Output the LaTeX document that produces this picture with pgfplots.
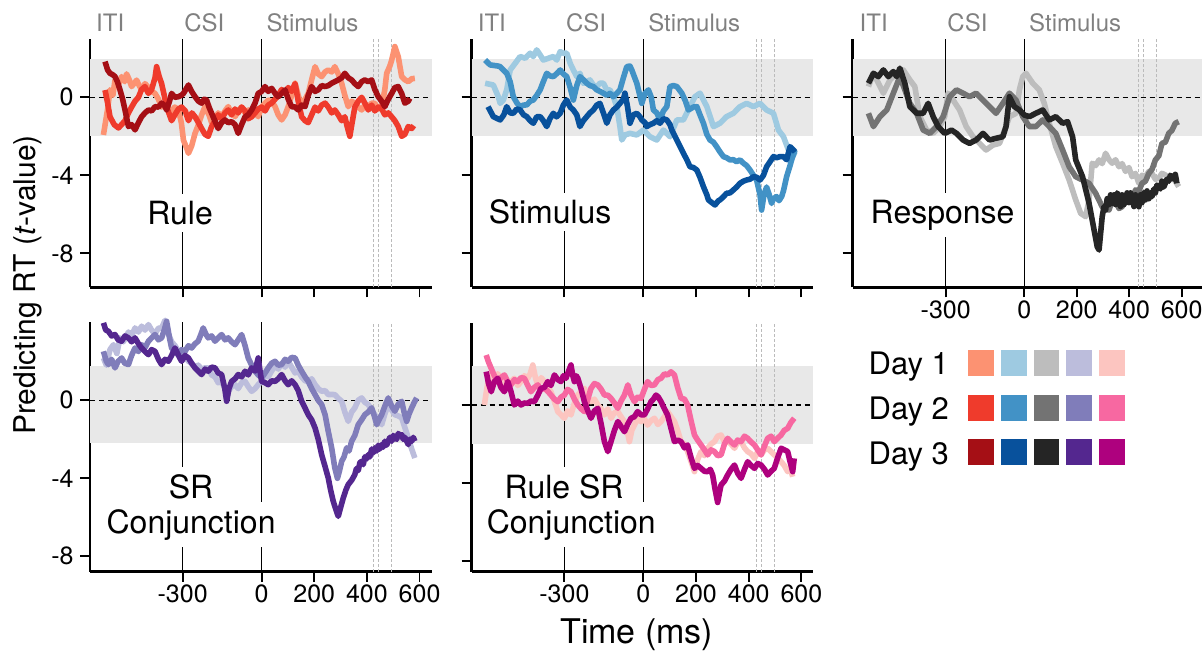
\documentclass[border=0pt]{standalone}
\usepackage{fontspec}
\setmainfont{TeX Gyre Heros}
\usepackage{pgfplots}
\pgfplotsset{compat=1.18}

\definecolor{r1}{HTML}{FC9272}\definecolor{r2}{HTML}{EF3B2C}\definecolor{r3}{HTML}{A50F15}
\definecolor{b1}{HTML}{9ECAE1}\definecolor{b2}{HTML}{4292C6}\definecolor{b3}{HTML}{08519C}
\definecolor{g1}{HTML}{BDBDBD}\definecolor{g2}{HTML}{737373}\definecolor{g3}{HTML}{252525}
\definecolor{p1}{HTML}{BCBDDC}\definecolor{p2}{HTML}{807DBA}\definecolor{p3}{HTML}{54278F}
\definecolor{m1}{HTML}{FCC5C0}\definecolor{m2}{HTML}{F768A1}\definecolor{m3}{HTML}{AE017E}
\definecolor{bandgray}{HTML}{E8E8E8}
\definecolor{evgray}{HTML}{808080}
\definecolor{dashgray}{HTML}{BBBBBB}

\pgfplotsset{
  panel/.style={
    scale only axis, axis lines*=left, clip=false,
    axis line style={line width=1.4pt, -},
    tick style={line width=0.9pt, black},
    tick align=outside, major tick length=5pt,
    xtick={-300,0,200,400,600}, ytick={-8,-4,0},
    xticklabels={}, yticklabels={},
    tick label style={font=\fontsize{12.5}{14}\selectfont},
    xticklabel style={inner sep=1.5pt},
    yticklabel style={inner sep=3pt},
    every axis plot/.append style={line width=2.8pt, line join=round, no markers},
  },
  xlab/.style={xticklabels={-300,0,200,400,600}},
  ylab/.style={yticklabels={-8,-4,0}},
}

% band, zero line, event lines, gray dashed lines
\newcommand\decor[9]{%
  \fill[bandgray] (axis cs:#1,#5) rectangle (axis cs:#2,#6);
  \draw[black, line width=0.6pt, dash pattern=on 2.5pt off 2pt] (axis cs:#1,0) -- (axis cs:#2,0);
  \draw[black, line width=0.6pt] (axis cs:-300,#3) -- (axis cs:-300,#4);
  \draw[black, line width=0.6pt] (axis cs:0,#3) -- (axis cs:0,#4);
  \draw[dashgray, line width=0.45pt, dash pattern=on 1.5pt off 1pt] (axis cs:#7,#3) -- (axis cs:#7,#4);
  \draw[dashgray, line width=0.45pt, dash pattern=on 1.5pt off 1pt] (axis cs:#8,#3) -- (axis cs:#8,#4);
  \draw[dashgray, line width=0.45pt, dash pattern=on 1.5pt off 1pt] (axis cs:#9,#3) -- (axis cs:#9,#4);
}
\newcommand\evlabels{%
  \node[anchor=west, inner sep=0pt, text=evgray, font=\fontsize{12}{14}\selectfont] at (axis cs:-630,3.82) {ITI};
  \node[anchor=west, inner sep=0pt, text=evgray, font=\fontsize{12}{14}\selectfont] at (axis cs:-295,3.82) {CSI};
  \node[anchor=west, inner sep=0pt, text=evgray, font=\fontsize{12}{14}\selectfont] at (axis cs:17,3.82) {Stimulus};
}
\tikzset{plab/.style={anchor=base, fill=white, inner xsep=2pt, inner ysep=3.5pt, font=\fontsize{16}{19}\selectfont}}

\begin{document}
\begin{tikzpicture}
\useasboundingbox (0,0) rectangle (601pt,325.5pt);

% ---------- Rule ----------
\begin{axis}[panel, ylab, at={(45pt,181.85pt)}, anchor=south west,
  width=170.85pt, height=124.15pt, xmin=-652, xmax=646, ymin=-9.74, ymax=2.99]
\decor{-652}{646}{-9.74}{2.99}{-1.96}{1.96}{426}{443}{495}
\addplot[r1] coordinates {(-601,-1.93) (-585,-0.6) (-576,0.38) (-565,0.1) (-557,0.88) (-545,0.6) (-532,1.06) (-520,0.8) (-513,1.2) (-503,0.9) (-494,0.55) (-485,0.7) (-475,0.88) (-465,0.6) (-456,0.38) (-443,0.7) (-430,0.5) (-418,0.3) (-405,0.2) (-392,-0.1) (-380,-0.5) (-365,-0.3) (-348,-0.8) (-330,-0.5) (-316,-0.65) (-305,-1.3) (-297,-2.2) (-285,-2.6) (-278,-2.87) (-266,-2.5) (-253,-1.85) (-240,-1.4) (-228,-0.9) (-215,-0.48) (-200,-0.9) (-190,-1.3) (-177,-1.16) (-165,-0.8) (-152,-1.0) (-139,-0.7) (-127,-0.48) (-114,-0.8) (-101,-0.99) (-89,-0.7) (-76,-0.5) (-63,-0.8) (-51,-0.65) (-38,-0.9) (-25,-0.8) (-13,-0.99) (0,-0.5) (13,-0.3) (25,-0.14) (38,-0.2) (51,-0.48) (63,-0.9) (76,-1.16) (89,-0.9) (101,-0.48) (114,0.1) (127,0.72) (139,0.1) (152,-0.48) (165,-0.1) (177,0.2) (190,0.9) (203,1.57) (215,1.2) (228,1.06) (241,1.3) (253,1.4) (266,1.3) (278,1.57) (291,1.2) (304,0.72) (316,0.1) (329,-0.48) (342,-0.2) (354,-0.31) (367,-0.5) (380,-0.65) (392,-0.4) (405,-0.48) (418,-0.3) (430,-0.31) (443,-0.6) (456,-0.48) (468,0.4) (475,1.23) (487,1.6) (494,1.9) (506,2.6) (519,2.08) (532,1.06) (544,0.9) (557,0.8) (570,0.95) (582,0.97)};
\addplot[r2] coordinates {(-595,0.37) (-585,-0.3) (-576,-1.0) (-560,-1.4) (-544,-1.57) (-532,-1.4) (-519,-1.2) (-506,-0.8) (-494,-0.5) (-481,-0.2) (-468,0.0) (-456,0.4) (-443,0.55) (-430,0.2) (-418,0.4) (-405,1.0) (-399,1.57) (-390,1.1) (-380,0.7) (-370,0.1) (-361,-0.5) (-350,-0.9) (-342,-1.2) (-330,-0.9) (-316,-0.6) (-304,-0.5) (-290,-0.7) (-278,-1.2) (-265,-0.8) (-253,-1.0) (-240,-1.3) (-228,-1.6) (-215,-1.9) (-203,-2.0) (-190,-1.5) (-177,-1.2) (-165,-0.9) (-152,-1.1) (-139,-0.8) (-127,-0.65) (-114,-0.9) (-101,-0.6) (-89,-0.8) (-76,-0.5) (-63,-0.7) (-51,-1.1) (-38,-1.0) (-25,-0.8) (-13,-0.6) (0,-0.5) (13,-0.7) (25,-0.4) (38,-0.3) (51,-0.1) (63,0.1) (76,0.4) (89,0.2) (101,0.5) (114,0.3) (127,0.7) (139,-0.2) (152,-1.0) (165,-1.2) (177,-1.3) (190,-0.9) (203,-0.5) (215,-0.7) (228,-0.4) (241,-0.3) (253,-0.5) (266,-0.8) (278,-0.65) (291,-0.9) (304,-1.2) (316,-1.0) (325,-1.5) (335,-2.0) (345,-1.2) (354,-0.5) (367,-0.2) (380,0) (392,-0.3) (405,-0.65) (418,-0.4) (430,-0.7) (443,-0.5) (456,-0.6) (468,-0.9) (481,-0.8) (494,-1.0) (506,-1.2) (519,-1.5) (532,-2.0) (544,-1.9) (557,-1.5) (570,-1.6) (578,-1.45)};
\addplot[r3] coordinates {(-595,1.83) (-585,1.4) (-576,1.23) (-565,1.15) (-557,1.06) (-548,0.8) (-538,0.38) (-528,-0.1) (-519,-0.65) (-506,-1.5) (-494,-1.4) (-481,-1.67) (-468,-1.3) (-456,-1.0) (-443,-0.8) (-430,-0.65) (-418,-0.7) (-405,-0.48) (-392,-0.5) (-380,-0.3) (-370,-0.4) (-361,-0.65) (-350,-0.2) (-342,0.2) (-330,0.0) (-316,0.03) (-305,0.1) (-297,0.2) (-288,0.4) (-278,0.63) (-266,0.3) (-253,0.03) (-240,-0.2) (-228,-0.3) (-218,-0.1) (-209,-0.14) (-200,-0.5) (-190,-0.82) (-178,-1.2) (-165,-1.6) (-152,-1.3) (-139,-1.16) (-127,-1.3) (-114,-1.25) (-101,-1.4) (-89,-1.85) (-76,-1.4) (-63,-1.0) (-51,-0.9) (-38,-0.65) (-25,-0.3) (-13,0.2) (0,0.3) (13,0.55) (25,0.3) (38,0.46) (51,0.2) (63,0.03) (76,0.2) (89,0.38) (101,-0.1) (114,-0.48) (127,-0.5) (139,-0.65) (152,-0.4) (165,-0.48) (177,0.1) (190,0.55) (203,0.3) (215,0.38) (228,0.6) (241,0.55) (253,0.6) (266,0.72) (278,0.8) (291,0.89) (304,1.0) (316,1.23) (329,1.0) (342,0.89) (354,0.7) (367,0.55) (380,0.8) (392,0.89) (405,0.8) (418,0.89) (430,0.4) (443,0.03) (456,-0.2) (468,-0.48) (481,-0.1) (494,0.2) (506,0.5) (519,0.55) (532,0.2) (544,-0.3) (557,-0.2) (563,-0.05)};
\evlabels
\node[plab] at (axis cs:-310,-6.5) {Rule};
\end{axis}

% ---------- Stimulus ----------
\begin{axis}[panel, at={(235.85pt,181.85pt)}, anchor=south west,
  width=170.5pt, height=124.15pt, xmin=-652, xmax=643, ymin=-9.74, ymax=2.99]
\decor{-652}{643}{-9.74}{2.99}{-1.96}{1.96}{428}{447}{497}
\addplot[b1] coordinates {(-601,0.72) (-570,0.63) (-551,0.03) (-544,-0.31) (-532,-0.14) (-519,0.38) (-506,1.40) (-487,1.74) (-468,2.09) (-449,2.0) (-430,2.26) (-418,2.09) (-405,2.43) (-392,2.17) (-380,1.91) (-361,2.0) (-342,2.09) (-329,1.91) (-316,2.34) (-304,2.26) (-291,2.26) (-278,1.74) (-266,1.4) (-253,1.06) (-241,1.23) (-228,0.72) (-215,0.8) (-203,0.89) (-190,0.63) (-177,0.55) (-165,0.72) (-152,0.72) (-139,0.38) (-127,0.38) (-114,0.03) (-101,-0.48) (-89,-1.5) (-82,-2.19) (-70,-1.93) (-51,-1.85) (-25,-1.93) (0,-1.68) (25,-2.02) (51,-2.19) (76,-1.68) (101,-2.02) (127,-1.16) (152,-1.16) (177,-0.48) (196,0.03) (215,0.21) (241,-0.48) (266,-1.5) (291,-1.33) (316,-0.99) (342,-0.82) (367,-0.48) (392,-0.31) (418,-0.48) (443,-0.31) (468,-0.65) (494,-0.82) (513,-1.68) (532,-2.02) (551,-2.7) (570,-2.95) (576,-2.79)};
\addplot[b2] coordinates {(-601,1.91) (-582,1.66) (-551,1.6) (-544,1.57) (-532,1.4) (-519,1.23) (-506,0.8) (-494,0.03) (-480,-0.3) (-468,-0.48) (-455,-0.4) (-443,-0.39) (-430,-0.2) (-418,-0.14) (-405,0.1) (-392,0.38) (-380,0.8) (-367,1.23) (-355,1.1) (-342,1.06) (-330,1.2) (-316,1.40) (-304,1.2) (-291,1.06) (-278,0.5) (-266,-0.14) (-253,0.6) (-241,1.06) (-228,0.9) (-215,0.72) (-203,0.6) (-190,0.55) (-177,0.38) (-165,0.3) (-152,0.21) (-139,0.1) (-127,0.2) (-114,0.03) (-101,0.2) (-89,0.38) (-76,1.0) (-63,1.57) (-51,1.6) (-44,1.40) (-25,0.72) (-6,-0.31) (6,0.2) (19,0.38) (30,0.0) (38,-0.65) (51,-0.8) (63,-1.16) (76,-0.7) (89,-0.48) (101,0.55) (114,0.6) (127,0.55) (146,0.21) (160,-0.2) (171,-0.65) (190,-0.5) (203,-0.48) (215,-0.9) (228,-1.33) (241,-1.9) (253,-2.19) (266,-2.3) (278,-2.53) (291,-2.8) (304,-3.04) (316,-3.1) (329,-3.21) (342,-3.2) (354,-3.3) (367,-3.21) (380,-3.38) (392,-3.5) (405,-3.73) (418,-4.0) (430,-4.24) (443,-5.0) (449,-5.78) (458,-5.0) (468,-4.6) (478,-5.0) (487,-5.44) (494,-5.2) (506,-5.09) (515,-5.3) (525,-5.09) (532,-4.8) (544,-4.07) (557,-3.5) (563,-3.21) (576,-2.7)};
\addplot[b3] coordinates {(-590,-0.48) (-570,-0.99) (-544,-1.16) (-530,-0.9) (-519,-0.48) (-506,-0.8) (-494,-0.82) (-481,-0.6) (-468,-0.65) (-455,-0.9) (-443,-0.99) (-430,-1.2) (-418,-1.33) (-405,-1.0) (-392,-0.99) (-380,-1.2) (-367,-1.5) (-355,-1.1) (-342,-0.82) (-330,-1.0) (-316,-0.82) (-304,-0.4) (-291,-0.14) (-278,-0.5) (-266,-0.65) (-253,-0.9) (-241,-1.5) (-228,-1.2) (-215,-0.99) (-203,-0.8) (-190,-0.65) (-177,-0.4) (-165,-0.31) (-152,-0.8) (-139,-1.33) (-127,-0.9) (-114,-0.65) (-101,-0.5) (-89,-0.31) (-76,-0.1) (-70,0.21) (-60,-0.5) (-51,-1.33) (-38,-0.9) (-25,-0.82) (-13,-1.0) (-6,-1.16) (6,-1.3) (13,-1.5) (25,-1.4) (38,-1.33) (51,-1.2) (63,-1.33) (76,-1.1) (89,-1.16) (101,-1.4) (108,-1.68) (127,-2.19) (146,-2.7) (152,-2.87) (165,-3.2) (177,-3.56) (190,-3.6) (203,-3.73) (215,-4.1) (228,-4.58) (241,-5.0) (247,-5.26) (260,-5.4) (272,-5.52) (285,-5.3) (291,-5.26) (304,-5.1) (316,-4.92) (329,-4.9) (342,-4.75) (354,-4.6) (367,-4.41) (380,-4.3) (392,-4.24) (405,-4.2) (418,-4.07) (430,-4.1) (443,-4.24) (456,-4.0) (468,-3.56) (481,-3.3) (494,-3.04) (506,-3.1) (519,-3.04) (532,-3.04) (544,-3.2) (557,-2.53) (570,-2.7) (576,-2.8)};
\evlabels
\node[plab] at (axis cs:-354,-6.47) {Stimulus};
\end{axis}

% ---------- Response ----------
\begin{axis}[panel, xlab, at={(426.35pt,181.85pt)}, anchor=south west,
  width=174.65pt, height=124.15pt, xmin=-655, xmax=678, ymin=-9.74, ymax=2.99]
\decor{-655}{678}{-9.74}{2.99}{-1.96}{1.96}{435}{453}{505}
\addplot[g1] coordinates {(-595,0.55) (-576,1.23) (-557,0.72) (-538,0.21) (-513,0.89) (-487,1.23) (-462,1.40) (-437,0.89) (-418,0.55) (-399,-0.99) (-373,-1.68) (-348,-1.85) (-323,-1.5) (-304,-0.99) (-291,0.21) (-272,-0.14) (-247,-0.65) (-222,-1.5) (-196,-2.02) (-171,-2.36) (-146,-2.7) (-120,-2.45) (-95,-2.36) (-70,-1.5) (-57,-0.99) (-32,-0.82) (-19,0.38) (-6,1.06) (6,1.23) (32,0.72) (57,0.38) (76,-0.31) (95,-1.33) (120,-2.53) (146,-3.38) (171,-4.24) (196,-5.26) (215,-5.95) (234,-6.12) (247,-5.26) (259,-3.38) (272,-3.5) (285,-3.21) (297,-3.4) (310,-2.87) (323,-3.2) (335,-3.38) (348,-3.2) (361,-3.56) (373,-3.4) (386,-3.8) (399,-3.6) (411,-4.07) (424,-3.9) (437,-4.41) (449,-4.0) (462,-4.07) (475,-3.8) (487,-3.9) (500,-4.2) (513,-4.15) (525,-3.9) (538,-3.98) (551,-4.2) (563,-4.07) (576,-4.3) (589,-4.58)};
\addplot[g2] coordinates {(-595,-0.82) (-576,-1.5) (-551,-0.99) (-525,-0.65) (-500,0.21) (-475,1.06) (-456,0.38) (-437,-0.31) (-411,-0.82) (-386,-1.68) (-361,-1.85) (-335,-1.5) (-310,-0.99) (-285,0.03) (-259,0.38) (-234,0.21) (-209,0.03) (-184,0.21) (-158,-0.14) (-133,-0.48) (-108,-0.82) (-82,-0.31) (-57,0.21) (-32,-0.14) (-6,-0.99) (19,-1.5) (44,-1.5) (70,-1.16) (95,-1.5) (120,-1.85) (146,-2.7) (171,-3.56) (196,-4.07) (222,-4.24) (247,-4.41) (272,-4.92) (297,-5.61) (323,-5.78) (335,-5.3) (348,-5.26) (361,-5.7) (373,-5.61) (386,-5.2) (399,-5.09) (411,-5.3) (424,-4.75) (437,-4.8) (449,-4.41) (462,-4.3) (475,-3.9) (487,-3.7) (500,-3.21) (513,-3.0) (525,-2.36) (538,-2.3) (551,-1.85) (563,-1.7) (576,-1.33) (589,-1.25)};
\addplot[g3] coordinates {(-595,0.72) (-576,1.23) (-557,1.06) (-538,1.40) (-519,1.06) (-500,1.32) (-487,1.06) (-475,1.49) (-456,0.72) (-437,-0.48) (-411,-0.82) (-386,-0.82) (-367,-0.31) (-348,-0.99) (-329,-1.5) (-304,-1.85) (-278,-1.68) (-259,-1.85) (-234,-2.19) (-209,-2.36) (-184,-2.19) (-158,-1.85) (-133,-2.19) (-108,-2.1) (-82,-2.02) (-70,-1.5) (-57,0.03) (-38,-0.48) (-19,-0.65) (0,-0.91) (19,-0.99) (44,-0.82) (70,-0.65) (95,-1.16) (120,-0.99) (146,-1.33) (165,-1.25) (184,-2.02) (196,-3.21) (222,-4.07) (247,-5.44) (266,-6.8) (278,-7.66) (285,-7.83) (297,-6.12) (304,-5.6) (310,-5.78) (316,-5.2) (323,-5.5) (329,-5.0) (335,-5.44) (342,-5.0) (348,-5.5) (354,-4.9) (361,-5.09) (367,-5.6) (373,-5.0) (380,-5.5) (386,-5.26) (392,-4.9) (399,-5.4) (405,-4.9) (411,-5.09) (418,-5.6) (424,-5.0) (430,-5.4) (437,-5.61) (443,-5.0) (449,-5.4) (456,-4.9) (462,-5.26) (468,-4.8) (475,-5.2) (481,-4.9) (487,-5.09) (494,-4.7) (500,-4.9) (506,-4.5) (513,-4.58) (519,-4.7) (525,-4.3) (532,-4.6) (538,-4.41) (544,-4.2) (551,-4.3) (557,-4.0) (563,-4.07) (570,-4.2) (576,-3.95) (582,-4.41)};
\evlabels
\node[plab] at (axis cs:-312,-6.47) {Response};
\end{axis}

% ---------- SR Conjunction ----------
\begin{axis}[panel, xlab, ylab, at={(45pt,39.65pt)}, anchor=south west,
  width=170.85pt, height=125pt, xmin=-652, xmax=646, ymin=-8.79, ymax=4.03]
\decor{-652}{646}{-8.79}{4.03}{-2.2}{1.78}{426}{443}{495}
\addplot[p1] coordinates {(-601,2.17) (-590,1.8) (-576,2.6) (-563,2.85) (-550,2.4) (-538,3.2) (-525,3.0) (-506,3.5) (-494,3.3) (-481,3.71) (-468,3.5) (-456,3.8) (-443,3.6) (-430,3.88) (-418,3.6) (-405,3.4) (-392,3.7) (-380,3.71) (-367,4.1) (-354,3.4) (-342,3.0) (-329,2.8) (-316,2.5) (-304,2.3) (-291,2.2) (-278,2.0) (-266,1.9) (-253,1.7) (-241,1.8) (-228,1.6) (-215,1.66) (-203,1.66) (-190,1.3) (-177,1.2) (-165,0.9) (-152,0.97) (-139,0.6) (-127,0.46) (-114,0.7) (-101,0.8) (-89,0.6) (-76,0.9) (-63,0.97) (-51,0.7) (-38,0.46) (-25,0.6) (-13,0.8) (0,0.97) (13,1.3) (25,1.2) (38,1.5) (51,1.8) (63,1.6) (76,1.9) (89,1.7) (101,2.0) (114,1.7) (127,1.4) (139,1.5) (152,1.2) (165,1.0) (177,0.97) (190,1.1) (203,0.8) (215,0.6) (228,0.46) (241,0.5) (253,0.29) (266,0.3) (278,0.29) (291,0.1) (304,-0.05) (316,-0.6) (329,-1.08) (342,-0.6) (354,-0.39) (367,0.0) (380,0.12) (392,-0.1) (405,-0.22) (418,-0.5) (430,-0.74) (443,-1.0) (456,-1.25) (468,-0.7) (481,-0.22) (494,-0.5) (506,-0.74) (519,-0.8) (532,-0.9) (544,-1.4) (557,-1.93) (570,-2.5) (582,-2.96)};
\addplot[p2] coordinates {(-601,2.51) (-590,2.0) (-582,1.83) (-570,2.1) (-557,1.66) (-545,2.0) (-532,2.17) (-520,1.9) (-506,1.83) (-494,2.3) (-481,2.68) (-468,2.5) (-456,2.85) (-443,2.7) (-430,3.03) (-418,3.2) (-405,3.37) (-392,3.1) (-380,3.2) (-370,3.6) (-361,4.05) (-350,3.2) (-342,2.68) (-330,2.5) (-316,2.34) (-304,2.6) (-291,2.51) (-278,2.8) (-266,2.68) (-253,2.9) (-241,3.03) (-230,3.4) (-222,3.71) (-212,3.4) (-203,3.2) (-190,3.3) (-177,3.03) (-165,3.2) (-152,3.37) (-139,3.1) (-127,3.2) (-114,3.0) (-101,2.85) (-89,3.1) (-76,3.37) (-63,2.8) (-51,2.17) (-38,1.8) (-25,1.49) (-13,1.3) (0,1.15) (13,1.4) (25,1.66) (38,1.9) (51,2.0) (63,1.8) (76,1.83) (89,2.1) (101,2.0) (114,2.2) (127,2.17) (139,1.8) (152,1.49) (165,1.2) (177,0.97) (190,0.6) (203,0.29) (215,0.0) (228,-0.22) (241,-0.74) (253,-1.59) (266,-2.44) (278,-3.47) (288,-4.0) (296,-3.6) (304,-3.13) (313,-2.9) (323,-2.44) (332,-2.6) (342,-2.1) (354,-1.8) (367,-1.25) (380,-1.0) (392,-0.74) (405,-0.6) (418,-0.39) (428,-0.8) (437,-1.25) (446,-1.0) (456,-0.74) (468,-0.3) (481,0.12) (494,-0.3) (506,-0.56) (519,-0.2) (532,-0.05) (541,-0.6) (551,-1.08) (560,-0.7) (570,-0.39) (580,-0.1) (589,0.12)};
\addplot[p3] coordinates {(-601,3.97) (-592,3.6) (-582,3.54) (-570,3.3) (-557,3.37) (-545,3.1) (-532,3.03) (-519,3.3) (-506,3.2) (-494,3.0) (-481,3.2) (-468,2.9) (-456,2.68) (-443,2.5) (-430,2.34) (-418,2.6) (-405,2.51) (-392,2.1) (-380,1.83) (-367,2.1) (-354,2.0) (-342,2.3) (-329,2.68) (-316,2.3) (-304,2.0) (-291,2.3) (-278,2.17) (-266,1.9) (-253,1.66) (-241,1.5) (-228,1.32) (-215,1.6) (-203,1.49) (-190,1.7) (-177,1.66) (-165,1.4) (-152,1.32) (-140,0.6) (-133,-0.05) (-124,0.6) (-114,0.97) (-101,1.1) (-89,1.32) (-76,1.2) (-63,1.49) (-51,1.3) (-38,1.66) (-25,1.5) (-13,2.17) (-6,1.5) (0,0.97) (13,0.9) (25,0.8) (38,1.0) (51,0.97) (63,1.1) (76,1.32) (89,1.0) (101,0.8) (114,1.0) (127,0.8) (139,0.5) (152,-0.05) (165,-0.4) (177,-0.74) (190,-1.0) (203,-1.42) (215,-2.0) (228,-2.79) (241,-3.4) (253,-3.98) (262,-4.6) (272,-5.18) (282,-5.6) (291,-5.95) (300,-5.5) (310,-5.01) (320,-4.6) (329,-4.32) (342,-4.1) (354,-3.81) (360,-3.5) (367,-3.6) (373,-3.2) (380,-3.13) (386,-3.3) (392,-2.9) (399,-3.0) (405,-2.79) (411,-2.9) (418,-2.5) (424,-2.7) (430,-2.44) (437,-2.6) (443,-2.3) (449,-2.5) (456,-2.27) (462,-2.4) (468,-2.1) (475,-2.3) (481,-2.1) (487,-1.9) (494,-2.1) (500,-1.8) (506,-1.93) (513,-2.0) (519,-1.7) (525,-1.8) (532,-1.76) (538,-2.0) (544,-1.9) (551,-2.1) (557,-2.27) (563,-2.0) (570,-2.1) (576,-1.9) (582,-2.1)};
\node[plab] at (axis cs:-268,-5.03) {SR};
\node[plab] at (axis cs:-268,-6.82) {Conjunction};
\end{axis}

% ---------- Rule SR Conjunction ----------
\begin{axis}[panel, xlab, at={(235.85pt,39.65pt)}, anchor=south west,
  width=170.5pt, height=124.5pt, xmin=-652, xmax=643, ymin=-8.55, ymax=4.22]
\decor{-652}{643}{-8.55}{4.22}{-1.98}{2.02}{428}{447}{497}
\addplot[m1] coordinates {(-604,0) (-595,0.8) (-585,1.54) (-575,1.0) (-566,1.2) (-553,1.6) (-541,1.37) (-528,1.0) (-515,0.85) (-503,1.2) (-490,1.37) (-477,1.0) (-465,1.2) (-452,1.5) (-439,1.37) (-430,1.6) (-420,2.05) (-410,1.4) (-401,1.03) (-388,1.4) (-376,1.2) (-363,0.9) (-351,0.68) (-338,0.2) (-325,-0.34) (-313,-0.5) (-300,-0.68) (-288,-0.3) (-275,-0.51) (-262,0.1) (-249,0.51) (-236,0.7) (-224,0.85) (-211,0.4) (-199,0.17) (-186,0.3) (-173,0) (-160,-0.2) (-148,-0.51) (-135,-0.2) (-123,-0.68) (-110,-0.4) (-97,-0.34) (-85,-0.6) (-72,-0.85) (-62,-1.3) (-53,-1.88) (-44,-1.3) (-34,-1.03) (-22,-0.7) (-9,-0.85) (4,-0.7) (16,-1.03) (29,-0.8) (42,-0.68) (55,-1.0) (67,-0.85) (80,-0.6) (92,-0.34) (105,-0.6) (118,-0.85) (130,-1.3) (143,-1.88) (156,-2.0) (168,-2.39) (181,-2.9) (194,-3.42) (206,-2.8) (219,-2.39) (232,-2.6) (244,-2.22) (257,-2.0) (270,-1.88) (282,-1.6) (295,-1.54) (308,-1.9) (320,-1.88) (333,-2.0) (346,-2.22) (358,-1.9) (371,-1.88) (384,-2.2) (396,-2.39) (409,-2.5) (422,-2.74) (434,-2.4) (447,-2.56) (460,-2.3) (472,-2.22) (485,-2.4) (497,-2.56) (510,-2.7) (523,-2.91) (535,-3.1) (548,-3.42) (557,-3.2) (567,-3.68)};
\addplot[m2] coordinates {(-597,2.56) (-588,2.2) (-578,1.88) (-566,1.5) (-553,1.2) (-541,1.4) (-528,1.54) (-515,1.2) (-503,1.03) (-490,1.3) (-477,1.2) (-465,1.4) (-452,1.37) (-439,1.0) (-427,0.68) (-414,0.9) (-401,1.03) (-389,0.8) (-376,0.85) (-363,0.7) (-351,0.51) (-338,0.3) (-325,0.17) (-313,0.4) (-300,0.51) (-288,0.8) (-275,0.68) (-262,0.3) (-249,0) (-236,-0.2) (-224,-0.34) (-211,0.3) (-199,0.85) (-186,1.1) (-173,1.03) (-160,0.8) (-148,0.51) (-135,0.5) (-123,0.34) (-110,0.1) (-97,-0.17) (-85,0.2) (-72,0.51) (-59,1.03) (-47,0.5) (-34,0.17) (-22,0.4) (-9,0.34) (4,0.8) (16,1.2) (29,1.0) (42,1.03) (55,1.3) (67,1.37) (80,1.6) (92,1.54) (105,1.7) (118,1.54) (130,0.9) (143,0.34) (156,0.3) (168,0) (181,-0.8) (194,-1.54) (206,-1.8) (219,-2.05) (232,-2.3) (244,-2.56) (257,-2.3) (270,-2.39) (282,-2.6) (295,-2.56) (308,-2.0) (320,-1.71) (333,-1.9) (346,-2.05) (358,-1.8) (371,-1.88) (384,-1.6) (396,-1.71) (409,-1.9) (422,-2.05) (434,-2.3) (447,-2.56) (460,-2.1) (472,-1.71) (485,-1.6) (497,-1.88) (510,-1.7) (523,-1.54) (535,-1.3) (548,-1.2) (560,-0.9) (573,-0.68)};
\addplot[m3] coordinates {(-597,1.71) (-588,1.1) (-578,0.68) (-566,1.2) (-553,1.37) (-541,0.9) (-528,0.68) (-515,1.2) (-503,0.7) (-490,0) (-477,0.2) (-465,0) (-452,0.1) (-439,0.09) (-427,0.2) (-414,0.17) (-401,0.5) (-389,0.85) (-376,0.9) (-363,1.2) (-351,1.0) (-338,1.54) (-325,1.3) (-313,1.2) (-304,1.5) (-294,1.37) (-285,1.7) (-275,2.05) (-268,1.5) (-262,1.2) (-255,1.5) (-249,1.37) (-236,0.8) (-224,0.17) (-211,-0.3) (-199,-0.68) (-186,-0.3) (-173,-0.17) (-160,-1.0) (-148,-1.88) (-135,-2.39) (-123,-1.88) (-110,-1.3) (-97,-0.85) (-85,-1.1) (-72,-1.37) (-60,-1.0) (-47,-0.68) (-34,-0.6) (-22,-0.34) (-9,-0.5) (4,-0.51) (16,-0.2) (29,0.17) (38,0.3) (48,0.51) (57,0.4) (67,0.17) (80,-0.2) (92,-0.51) (105,-1.2) (118,-1.88) (130,-1.8) (143,-1.88) (156,-2.2) (168,-2.05) (181,-2.7) (194,-3.25) (206,-3.1) (219,-3.25) (232,-3.4) (244,-3.42) (254,-3.3) (263,-3.59) (272,-4.3) (282,-5.0) (289,-4.5) (295,-4.1) (308,-3.9) (320,-3.59) (333,-3.3) (346,-3.08) (358,-3.5) (371,-3.76) (384,-3.3) (396,-2.91) (409,-3.1) (422,-3.25) (434,-3.0) (447,-3.08) (460,-3.3) (472,-3.59) (485,-3.4) (497,-3.25) (510,-2.7) (523,-2.22) (535,-2.3) (548,-2.39) (557,-2.9) (567,-3.42) (573,-2.74)};
\node[plab] at (axis cs:-301,-4.78) {Rule SR};
\node[plab] at (axis cs:-274,-6.58) {Conjunction};
\end{axis}

% ---------- outer labels ----------
\node[rotate=90, anchor=base, font=\fontsize{15}{18}\selectfont] at (17.5pt,183pt) {Predicting RT (\textit{t}-value)};
\node[anchor=base, font=\fontsize{17}{20}\selectfont] at (318.35pt,3.85pt) {Time (ms)};

% legend: day shades per panel colour family
\foreach \lab/\yb/\ys/\c in {1/138/137.65/1, 2/115.5/115.15/2, 3/93/93.15/3}{
  \node[anchor=base west, inner sep=0pt, font=\fontsize{15.5}{18}\selectfont] at (434.15pt,\yb pt) {Day \lab};
  \foreach \fam [count=\i from 0] in {r,b,g,p,m}{
    \fill[\fam\c] ({484.15pt+\i*16.35pt},\ys pt) rectangle ++(12.85pt,12.85pt);
  }
}
\end{tikzpicture}
\end{document}
